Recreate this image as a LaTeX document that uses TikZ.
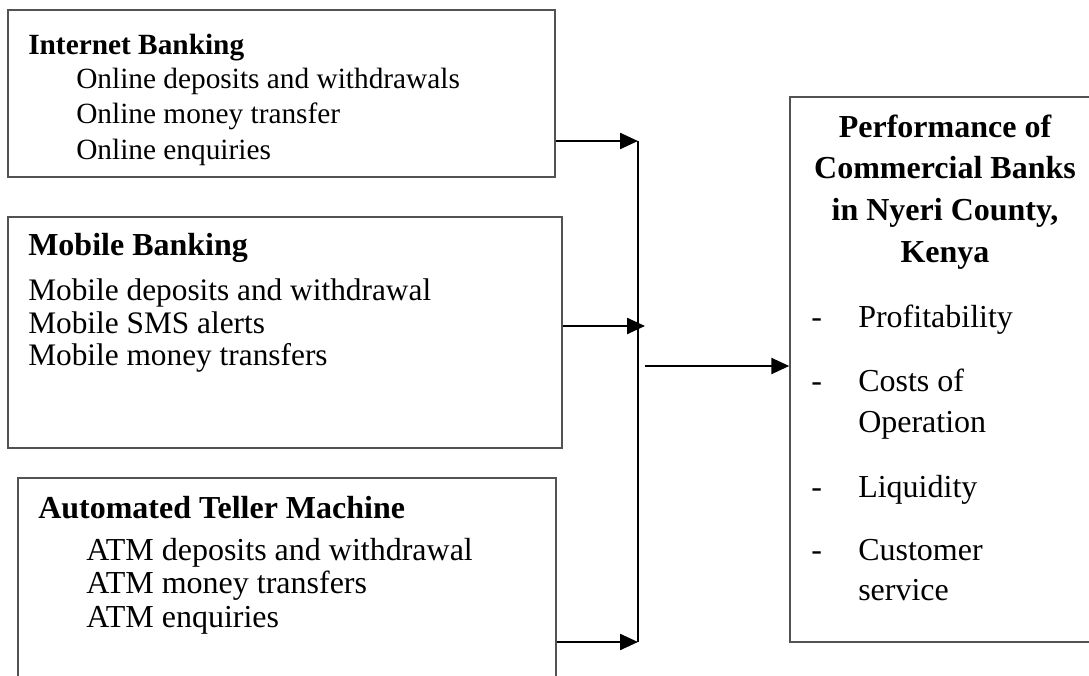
\documentclass[tikz,border=0pt]{standalone}
\usepackage{fontspec}
\setmainfont{Liberation Serif}
\usetikzlibrary{arrows.meta,fit}
\tikzset{
  box/.style={draw=black!68, line width=1.1pt, inner sep=0pt},
  lbl/.style={anchor=base west, inner sep=0pt, font=\fontsize{24}{28}\selectfont},
  mlbl/.style={anchor=base west, inner sep=0pt, font=\fontsize{23.5}{28}\selectfont},
  ilbl/.style={anchor=base west, inner sep=0pt, font=\fontsize{22}{26}\selectfont},
  ttl/.style={anchor=base, inner sep=0pt, font=\fontsize{24}{28}\selectfont\bfseries},
  arr/.style={line width=1.8pt, -{Triangle[length=13.5pt, width=12pt]}},
  vline/.style={line width=1.6pt},
}
\begin{document}
\begin{tikzpicture}[x=0.75pt, y=-0.75pt]
\useasboundingbox (0,0) rectangle (1089,675);
\clip (0,0) rectangle (1089,675);
\fill[white] (0,0) rectangle (1089,675);
% boxes
\node[box, fit={(8,10) (555,177)}] (ib) {};
\node[box, fit={(8,217) (562,448)}] (mb) {};
\node[box, fit={(18,478) (556,720)}] (atm) {};
\node[box, fit={(790,97) (1120,642)}] (perf) {};
% Internet Banking text
\node[ilbl, font=\fontsize{22}{26}\selectfont\bfseries] (ib0) at (28,54) {Internet Banking};
\node[ilbl] (ib1) at (76,88) {Online deposits and withdrawals};
\node[ilbl] (ib2) at (76,123) {Online money transfer};
\node[ilbl] (ib3) at (76,159) {Online enquiries};
% Mobile Banking text
\node[mlbl, font=\fontsize{24}{28}\selectfont\bfseries] (mb0) at (28,255) {Mobile Banking};
\node[mlbl] (mb1) at (28,300) {Mobile deposits and withdrawal};
\node[mlbl] (mb2) at (28,333) {Mobile SMS alerts};
\node[mlbl] (mb3) at (28,365) {Mobile money transfers};
% ATM text
\node[lbl, font=\fontsize{24}{28}\selectfont\bfseries] (atm0) at (38,518) {Automated Teller Machine};
\node[lbl] (atm1) at (86,560) {ATM deposits and withdrawal};
\node[lbl] (atm2) at (86,593) {ATM money transfers};
\node[lbl] (atm3) at (86,627) {ATM enquiries};
% Performance text
\node[ttl] (p0) at (945,137) {Performance of};
\node[ttl] (p1) at (945,178) {Commercial Banks};
\node[ttl] (p2) at (945,220) {in Nyeri County,};
\node[ttl] (p3) at (945,262) {Kenya};
\node[lbl] (d1) at (811,327) {-};
\node[lbl] (t1) at (858,327) {Profitability};
\node[lbl] (d2) at (811,391) {-};
\node[lbl] (t2) at (858,391) {Costs of};
\node[lbl] (t2b) at (858,432) {Operation};
\node[lbl] (d3) at (811,497) {-};
\node[lbl] (t3) at (858,497) {Liquidity};
\node[lbl] (d4) at (811,560) {-};
\node[lbl] (t4) at (858,560) {Customer};
\node[lbl] (t4b) at (858,600) {service};
% connectors
\coordinate (j1) at (638,141);
\coordinate (j2) at (645,326);
\coordinate (j3) at (638,642);
\coordinate (o1) at (645,366);
\draw[vline] (j1) -- (j3);
\draw[arr] (ib.east |- j1) -- (j1);
\draw[arr] (mb.east |- j2) -- (j2);
\draw[arr] (atm.east |- j3) -- (j3);
\draw[arr] (o1) -- (perf.west |- o1);
\end{tikzpicture}
\end{document}
